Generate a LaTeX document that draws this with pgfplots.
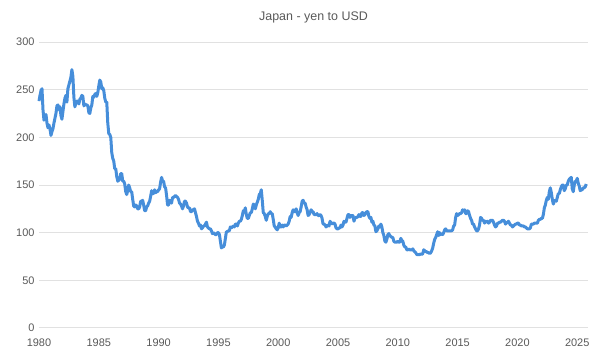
\documentclass[border=0pt]{standalone}
\usepackage{pgfplots}
\pgfplotsset{compat=1.18}
\usepackage{pgfplotstable}
\usepackage{fontspec}
\setmainfont{Liberation Sans}
\definecolor{lineblue}{RGB}{70,142,218}
\definecolor{gridgray}{RGB}{225,225,225}
\definecolor{textgray}{RGB}{89,89,89}
\pgfplotstableread[row sep=\\]{
v\\
238\\ 244\\ 249\\ 251\\ 229\\ 218\\ 220\\ 224\\ 215\\ 210\\ 213\\ 209\\
202\\ 206\\ 209\\ 215\\ 220\\ 225\\ 233\\ 234\\ 229\\ 232\\ 223\\ 219\\
227\\ 235\\ 241\\ 244\\ 237\\ 251\\ 255\\ 259\\ 263\\ 271\\ 264\\ 242\\
232\\ 236\\ 238\\ 238\\ 235\\ 240\\ 241\\ 244\\ 243\\ 233\\ 235\\ 234\\
234\\ 233\\ 226\\ 225\\ 231\\ 234\\ 243\\ 242\\ 245\\ 246\\ 243\\ 247\\
254\\ 260\\ 258\\ 251\\ 252\\ 249\\ 241\\ 237\\ 237\\ 215\\ 204\\ 203\\
200\\ 184\\ 178\\ 175\\ 167\\ 167\\ 159\\ 154\\ 155\\ 156\\ 162\\ 162\\
154\\ 154\\ 151\\ 143\\ 140\\ 144\\ 150\\ 147\\ 143\\ 143\\ 135\\ 128\\
127\\ 129\\ 128\\ 125\\ 125\\ 127\\ 133\\ 133\\ 134\\ 129\\ 123\\ 123\\
127\\ 128\\ 131\\ 133\\ 138\\ 144\\ 141\\ 141\\ 145\\ 142\\ 143\\ 143\\
145\\ 146\\ 153\\ 158\\ 154\\ 154\\ 148\\ 147\\ 139\\ 129\\ 129\\ 134\\
133\\ 131\\ 137\\ 137\\ 138\\ 139\\ 138\\ 137\\ 135\\ 131\\ 130\\ 128\\
125\\ 128\\ 133\\ 133\\ 131\\ 127\\ 126\\ 126\\ 122\\ 122\\ 124\\ 124\\
125\\ 121\\ 117\\ 112\\ 110\\ 107\\ 108\\ 104\\ 105\\ 107\\ 107\\ 109\\
111\\ 106\\ 105\\ 104\\ 104\\ 102\\ 99\\ 100\\ 99\\ 98\\ 98\\ 100\\
100\\ 98\\ 91\\ 84\\ 85\\ 85\\ 87\\ 94\\ 101\\ 101\\ 102\\ 102\\
106\\ 105\\ 106\\ 107\\ 106\\ 109\\ 109\\ 107\\ 110\\ 112\\ 112\\ 114\\
118\\ 123\\ 122\\ 126\\ 119\\ 115\\ 115\\ 118\\ 121\\ 121\\ 125\\ 130\\
129\\ 125\\ 129\\ 132\\ 135\\ 140\\ 141\\ 145\\ 134\\ 121\\ 120\\ 117\\
113\\ 117\\ 120\\ 120\\ 122\\ 120\\ 120\\ 114\\ 107\\ 106\\ 104\\ 103\\
105\\ 110\\ 106\\ 106\\ 108\\ 106\\ 108\\ 108\\ 107\\ 108\\ 109\\ 112\\
117\\ 116\\ 121\\ 124\\ 122\\ 122\\ 125\\ 121\\ 118\\ 121\\ 122\\ 127\\
133\\ 134\\ 131\\ 131\\ 127\\ 124\\ 118\\ 119\\ 121\\ 124\\ 122\\ 122\\
119\\ 119\\ 119\\ 120\\ 118\\ 118\\ 119\\ 118\\ 115\\ 109\\ 109\\ 108\\
106\\ 107\\ 108\\ 107\\ 112\\ 110\\ 109\\ 110\\ 110\\ 109\\ 105\\ 104\\
104\\ 105\\ 105\\ 108\\ 106\\ 108\\ 112\\ 111\\ 111\\ 115\\ 119\\ 119\\
116\\ 118\\ 118\\ 118\\ 112\\ 115\\ 116\\ 116\\ 117\\ 119\\ 117\\ 117\\
121\\ 121\\ 118\\ 119\\ 121\\ 122\\ 122\\ 117\\ 115\\ 116\\ 111\\ 112\\
108\\ 107\\ 101\\ 102\\ 104\\ 107\\ 106\\ 109\\ 106\\ 100\\ 97\\ 91\\
90\\ 93\\ 98\\ 99\\ 97\\ 96\\ 95\\ 95\\ 91\\ 90\\ 90\\ 90\\
91\\ 90\\ 90\\ 94\\ 92\\ 91\\ 87\\ 85\\ 85\\ 82\\ 82\\ 83\\
82\\ 82\\ 82\\ 83\\ 81\\ 80\\ 79\\ 77\\ 77\\ 77\\ 77\\ 78\\
77\\ 78\\ 82\\ 81\\ 80\\ 80\\ 79\\ 79\\ 78\\ 79\\ 81\\ 84\\
89\\ 93\\ 95\\ 98\\ 101\\ 97\\ 100\\ 98\\ 99\\ 98\\ 100\\ 103\\
104\\ 102\\ 102\\ 102\\ 102\\ 102\\ 102\\ 103\\ 107\\ 108\\ 116\\ 120\\
118\\ 119\\ 120\\ 120\\ 121\\ 124\\ 123\\ 124\\ 120\\ 120\\ 123\\ 122\\
118\\ 115\\ 113\\ 109\\ 109\\ 106\\ 104\\ 102\\ 102\\ 104\\ 108\\ 116\\
115\\ 113\\ 113\\ 110\\ 112\\ 111\\ 112\\ 110\\ 111\\ 113\\ 113\\ 113\\
111\\ 108\\ 106\\ 107\\ 110\\ 110\\ 111\\ 111\\ 112\\ 113\\ 113\\ 112\\
109\\ 110\\ 111\\ 112\\ 110\\ 108\\ 108\\ 106\\ 107\\ 108\\ 109\\ 109\\
110\\ 110\\ 108\\ 108\\ 107\\ 107\\ 107\\ 106\\ 106\\ 105\\ 104\\ 104\\
104\\ 105\\ 109\\ 109\\ 109\\ 110\\ 110\\ 110\\ 110\\ 113\\ 114\\ 114\\
115\\ 115\\ 119\\ 126\\ 129\\ 134\\ 137\\ 135\\ 143\\ 147\\ 142\\ 135\\
130\\ 133\\ 134\\ 133\\ 137\\ 141\\ 141\\ 145\\ 148\\ 150\\ 150\\ 144\\
146\\ 150\\ 150\\ 154\\ 156\\ 157\\ 158\\ 146\\ 143\\ 150\\ 154\\ 154\\
157\\ 152\\ 149\\ 144\\ 145\\ 145\\ 147\\ 147\\ 148\\ 151\\
}\jpy
\begin{document}
\begin{tikzpicture}
\path[use as bounding box] (0,0) rectangle (600bp,361bp);
\begin{axis}[
  at={(39bp,33bp)}, anchor=south west,
  scale only axis, width=549bp, height=286bp,
  xmin=1980, xmax=2025.9, ymin=0, ymax=300,
  xtick={1980,1985,...,2025}, ytick={0,50,...,300},
  /pgf/number format/1000 sep={},
  /pgf/number format/assume math mode=true,
  axis line style={draw=none},
  tick style={draw=none},
  ymajorgrids, grid style={gridgray, line width=1bp},
  tick label style={font=\fontsize{11}{13}\selectfont, text=textgray},
  yticklabel style={xshift=-1bp},
  xticklabel style={yshift=-7bp},
  title={Japan - yen to USD},
  title style={font=\fontsize{12.5}{14}\selectfont, text=textgray, yshift=9bp},
  clip=false,
]
\addplot[lineblue, line width=3bp, line join=round, no markers]
  table[x expr=1980+\coordindex/12, y=v] {\jpy};
\end{axis}
\end{tikzpicture}
\end{document}
